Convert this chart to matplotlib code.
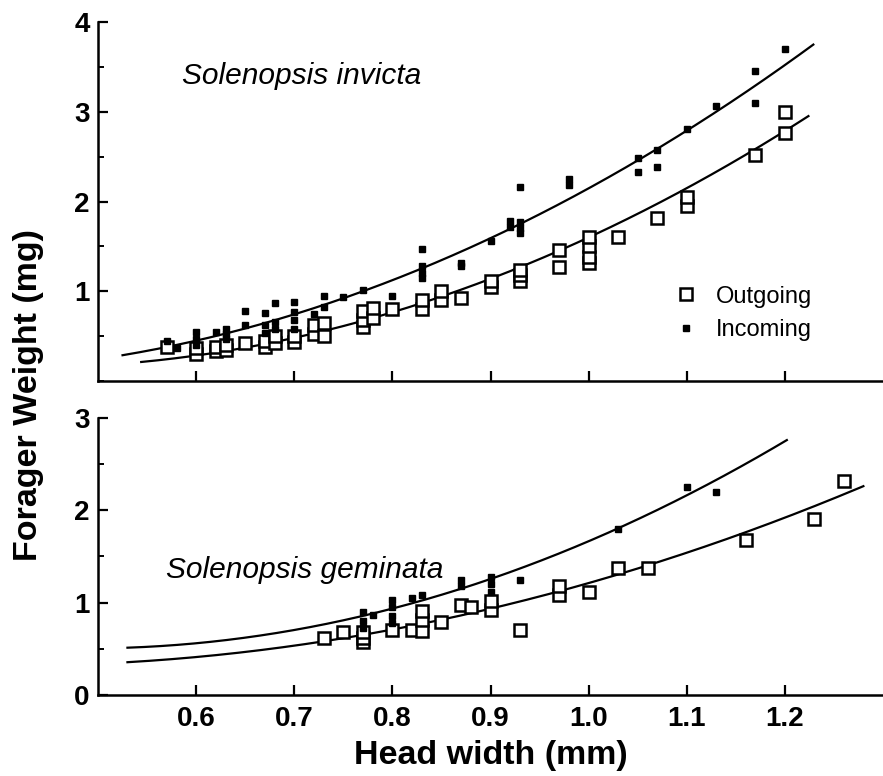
import matplotlib
matplotlib.use("Agg")
import matplotlib.pyplot as plt
import numpy as np
from matplotlib.ticker import MultipleLocator

plt.rcParams['font.family'] = ['Liberation Sans', 'DejaVu Sans']

# ---------------- data: Solenopsis invicta (top) ----------------
inv_out_x = [0.57, 0.60, 0.60, 0.62, 0.62, 0.63, 0.63, 0.65, 0.67, 0.67, 0.68, 0.68,
             0.70, 0.70, 0.72, 0.72, 0.73, 0.73, 0.77, 0.77, 0.77, 0.78, 0.78, 0.80,
             0.83, 0.83, 0.85, 0.85, 0.87, 0.90, 0.90, 0.93, 0.93, 0.93, 0.97, 0.97,
             1.00, 1.00, 1.00, 1.00, 1.03, 1.07, 1.10, 1.10, 1.17, 1.20, 1.20]
inv_out_y = [0.38, 0.30, 0.37, 0.34, 0.38, 0.35, 0.40, 0.42, 0.38, 0.45, 0.42, 0.50,
             0.43, 0.50, 0.52, 0.62, 0.50, 0.65, 0.60, 0.68, 0.78, 0.70, 0.81, 0.80,
             0.80, 0.90, 0.90, 1.00, 0.92, 1.05, 1.12, 1.12, 1.18, 1.24, 1.27, 1.46,
             1.32, 1.38, 1.50, 1.60, 1.60, 1.82, 1.95, 2.05, 2.52, 2.76, 3.00]

inv_in_x = [0.57, 0.58, 0.60, 0.60, 0.60, 0.62, 0.63, 0.63, 0.63, 0.65, 0.65,
            0.67, 0.67, 0.67, 0.68, 0.68, 0.68, 0.70, 0.70, 0.70, 0.70, 0.72,
            0.73, 0.73, 0.75, 0.77, 0.80, 0.83, 0.83, 0.83, 0.83, 0.87, 0.87,
            0.90, 0.92, 0.92, 0.93, 0.93, 0.93, 0.93, 0.98, 0.98, 1.05, 1.05,
            1.07, 1.07, 1.10, 1.13, 1.17, 1.17, 1.20]
inv_in_y = [0.45, 0.37, 0.40, 0.47, 0.55, 0.55, 0.47, 0.52, 0.58, 0.62, 0.78,
            0.53, 0.62, 0.76, 0.58, 0.66, 0.87, 0.58, 0.68, 0.77, 0.88, 0.75,
            0.82, 0.95, 0.94, 1.01, 0.95, 1.15, 1.20, 1.28, 1.47, 1.28, 1.32,
            1.56, 1.72, 1.78, 1.65, 1.70, 1.77, 2.16, 2.18, 2.25, 2.33, 2.48,
            2.38, 2.57, 2.81, 3.06, 3.10, 3.45, 3.70]

# ---------------- data: Solenopsis geminata (bottom) ----------------
gem_out_x = [0.73, 0.75, 0.77, 0.77, 0.77, 0.80, 0.82, 0.83, 0.83, 0.83, 0.85,
             0.87, 0.88, 0.90, 0.90, 0.93, 0.97, 0.97, 1.00, 1.03, 1.06, 1.16,
             1.23, 1.26]
gem_out_y = [0.62, 0.68, 0.57, 0.62, 0.68, 0.70, 0.70, 0.69, 0.81, 0.91, 0.79,
             0.97, 0.95, 0.92, 1.02, 0.70, 1.08, 1.18, 1.11, 1.38, 1.38, 1.68,
             1.91, 2.32]

gem_in_x = [0.77, 0.77, 0.77, 0.78, 0.80, 0.80, 0.80, 0.80, 0.82, 0.83, 0.87,
            0.87, 0.90, 0.90, 0.90, 0.93, 1.03, 1.10, 1.13]
gem_in_y = [0.72, 0.80, 0.90, 0.87, 0.78, 0.85, 0.95, 1.03, 1.05, 1.08, 1.18,
            1.24, 1.12, 1.20, 1.28, 1.24, 1.80, 2.25, 2.20]

# fitted regression curves: quadratic coefficients (c0, c1, c2) and x range
inv_out_fit = (0.95, -3.75, 4.40)
inv_out_range = (0.544, 1.224)
inv_in_fit = (0.529, -2.757, 4.375)
inv_in_range = (0.525, 1.229)
gem_out_fit = (0.748, -2.101, 2.565)
gem_out_range = (0.53, 1.28)
gem_in_fit = (1.554, -4.308, 4.419)
gem_in_range = (0.53, 1.202)

x_ticks = [0.6, 0.7, 0.8, 0.9, 1.0, 1.1, 1.2]
x_tick_labels = ["0.6", "0.7", "0.8", "0.9", "1.0", "1.1", "1.2"]

fig = plt.figure(figsize=(8.83, 7.76), dpi=100)
ax1 = fig.add_axes([0.111, 0.509, 0.889, 0.4626])
ax2 = fig.add_axes([0.111, 0.1044, 0.889, 0.3570])

def curve(ax, coef, rng):
    xs = np.linspace(rng[0], rng[1], 200)
    ys = coef[0] + coef[1] * xs + coef[2] * xs ** 2
    ax.plot(xs, ys, color='black', lw=1.6, zorder=2)

def style(ax, ymax):
    ax.set_xlim(0.5, 1.3)
    ax.set_ylim(0, ymax)
    for s in ['top', 'right']:
        ax.spines[s].set_visible(False)
    for s in ['left', 'bottom']:
        ax.spines[s].set_linewidth(1.8)
    ax.set_xticks(x_ticks)
    ax.yaxis.set_major_locator(MultipleLocator(1))
    ax.yaxis.set_minor_locator(MultipleLocator(0.5))
    ax.tick_params(axis='both', which='major', direction='in', length=7, width=1.6,
                   labelsize=20)
    ax.tick_params(axis='x', which='major', pad=8)
    ax.tick_params(axis='y', which='major', pad=6)
    ax.tick_params(axis='y', which='minor', direction='in', length=4, width=1.4)

for ax, ox, oy, ix, iy, ofit, orng, ifit, irng in [
        (ax1, inv_out_x, inv_out_y, inv_in_x, inv_in_y, inv_out_fit, inv_out_range, inv_in_fit, inv_in_range),
        (ax2, gem_out_x, gem_out_y, gem_in_x, gem_in_y, gem_out_fit, gem_out_range, gem_in_fit, gem_in_range)]:
    curve(ax, ofit, orng)
    curve(ax, ifit, irng)
    ax.plot(ox, oy, ls='none', marker='s', ms=8, mfc='white', mec='black', mew=1.8,
            zorder=3, label='Outgoing')
    ax.plot(ix, iy, ls='none', marker='s', ms=5, mfc='black', mec='black',
            zorder=4, label='Incoming')

style(ax1, 4)
ax1.set_xticklabels([])
ax1.set_yticks([1, 2, 3, 4])
style(ax2, 3)
ax2.set_yticks([0, 1, 2, 3])
ax2.set_xticklabels(x_tick_labels)
for lab in ax2.get_xticklabels() + ax2.get_yticklabels() + ax1.get_yticklabels():
    lab.set_fontweight('bold')

ax1.text(0.586, 3.31, "Solenopsis invicta", fontsize=21.5, style='italic', va='baseline')
ax2.text(0.569, 1.27, "Solenopsis geminata", fontsize=21.5, style='italic', va='baseline')

leg = ax1.legend(loc='center left', bbox_to_anchor=(0.707, 0.188), frameon=False,
                 fontsize=17, handlelength=1.0, handletextpad=0.77, labelspacing=0.5)

ax2.set_xlabel("Head width (mm)", fontsize=24.5, fontweight='bold', labelpad=6)
fig.text(0.032, 0.491, "Forager Weight (mg)", fontsize=24.5, fontweight='bold',
         rotation=90, ha='center', va='center')

fig.savefig("out.png", dpi=100)
